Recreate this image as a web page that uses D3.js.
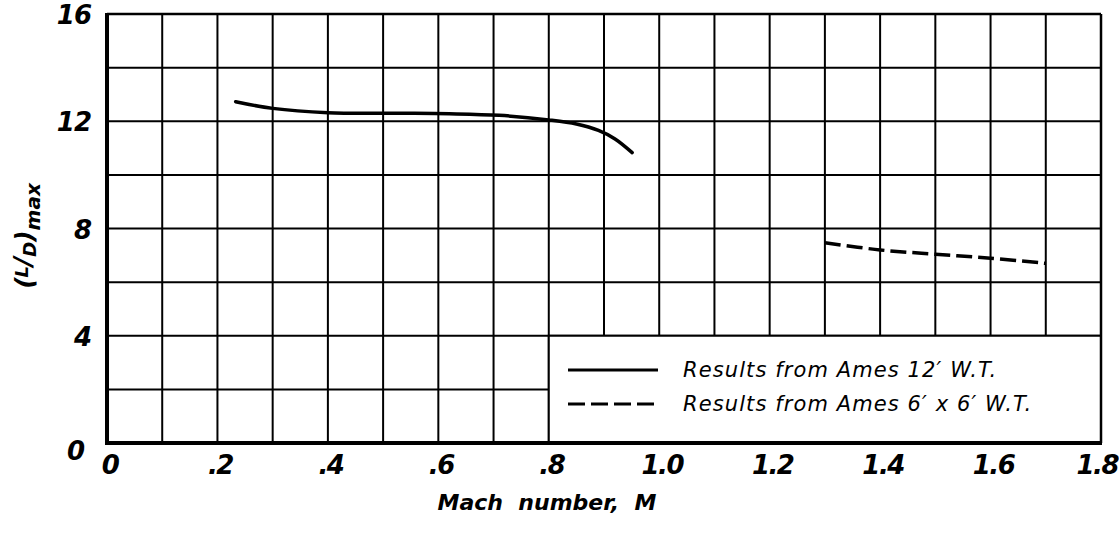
<!DOCTYPE html>
<meta charset="utf-8">
<style>
  body { margin: 0; background: #fff; }
  svg text { font-family: "DejaVu Sans", sans-serif; font-style: italic; fill: #000; white-space: pre; }
  .tick-label { font-size: 26px; font-weight: bold; }
  .axis-title { font-size: 22px; font-weight: bold; }
  .legend text { font-size: 21px; letter-spacing: 1.1px; }
  .grid line { stroke: #000; stroke-width: 2px; }
</style>
<body>
<svg id="chart" width="1119" height="534"></svg>
<script src="https://d3js.org/d3.v7.min.js"></script>
<script>
// axis ticks
const xTicks = [0, 0.2, 0.4, 0.6, 0.8, 1.0, 1.2, 1.4, 1.6, 1.8];
const xTickLabels = ["0", ".2", ".4", ".6", ".8", "1.0", "1.2", "1.4", "1.6", "1.8"];
const yTicks = [0, 4, 8, 12, 16];
const yTickLabels = ["0", "4", "8", "12", "16"];

// Ames 12' W.T. (solid)
const ames12Mach = [0.233, 0.30, 0.40, 0.53, 0.62, 0.71, 0.80, 0.85, 0.89, 0.92, 0.951];
const ames12LD   = [12.73, 12.48, 12.32, 12.30, 12.28, 12.22, 12.05, 11.90, 11.66, 11.34, 10.83];

// Ames 6' x 6' W.T. (dashed)
const ames6Mach = [1.3, 1.4, 1.5, 1.6, 1.7];
const ames6LD   = [7.47, 7.2, 7.04, 6.89, 6.70];

const legendLabels = ["Results from Ames 12\u2032 W.T.", "Results from Ames 6\u2032 x 6\u2032 W.T."];

const svg = d3.select("#chart");

const x = d3.scaleLinear().domain([0, 1.8]).range([107, 1101]);
const y = d3.scaleLinear().domain([0, 16]).range([443, 14]);

// grid every 0.1 Mach and 2 units
const grid = svg.append("g").attr("class", "grid");
grid.selectAll("line.v")
  .data(d3.range(1, 18).map(function(i) { return i / 10; }))
  .enter().append("line")
  .attr("x1", function(d) { return x(d); })
  .attr("x2", function(d) { return x(d); })
  .attr("y1", y(16))
  .attr("y2", y(0));
grid.selectAll("line.h")
  .data(d3.range(2, 16, 2))
  .enter().append("line")
  .attr("x1", x(0))
  .attr("x2", x(1.8))
  .attr("y1", function(d) { return y(d); })
  .attr("y2", function(d) { return y(d); });

// legend box sits on top of the grid
const legend = svg.append("g").attr("class", "legend");
legend.append("rect")
  .attr("x", x(0.8))
  .attr("y", y(4))
  .attr("width", x(1.8) - x(0.8))
  .attr("height", y(0) - y(4))
  .attr("fill", "#fff")
  .attr("stroke", "#000")
  .attr("stroke-width", 2);

const rows = legend.selectAll("g.row")
  .data(legendLabels)
  .enter().append("g")
  .attr("transform", function(d, i) { return "translate(0," + (370 + i * 34) + ")"; });
rows.append("line")
  .attr("x1", 568).attr("x2", 658)
  .attr("stroke", "#000")
  .attr("stroke-width", 3)
  .attr("stroke-dasharray", function(d, i) { return i ? "17,6" : null; });
rows.append("text")
  .attr("x", 683)
  .attr("y", 7)
  .text(function(d) { return d; });

// frame
svg.append("line").attr("x1", x(0)).attr("x2", x(1.8)).attr("y1", y(16)).attr("y2", y(16))
  .attr("stroke", "#000").attr("stroke-width", 2.5);
svg.append("line").attr("x1", x(1.8)).attr("x2", x(1.8)).attr("y1", y(16)).attr("y2", y(0))
  .attr("stroke", "#000").attr("stroke-width", 2.5);
svg.append("line").attr("x1", x(0)).attr("x2", x(0)).attr("y1", y(16) - 1).attr("y2", y(0) + 2)
  .attr("stroke", "#000").attr("stroke-width", 4);
svg.append("line").attr("x1", x(0) - 2).attr("x2", x(1.8) + 1).attr("y1", y(0)).attr("y2", y(0))
  .attr("stroke", "#000").attr("stroke-width", 4);

// curves
const line = d3.line()
  .x(function(d) { return x(d[0]); })
  .y(function(d) { return y(d[1]); })
  .curve(d3.curveCatmullRom.alpha(0.5));

svg.append("path")
  .datum(d3.zip(ames12Mach, ames12LD))
  .attr("d", line)
  .attr("fill", "none")
  .attr("stroke", "#000")
  .attr("stroke-width", 3.5)
  .attr("stroke-linecap", "round");

svg.append("path")
  .datum(d3.zip(ames6Mach, ames6LD))
  .attr("d", line)
  .attr("fill", "none")
  .attr("stroke", "#000")
  .attr("stroke-width", 3.5)
  .attr("stroke-dasharray", "16,6");

// tick labels
svg.selectAll("text.xt")
  .data(xTicks)
  .enter().append("text")
  .attr("class", "tick-label")
  .attr("x", function(d) { return d === 1.8 ? 1118 : x(d) + 3; })
  .attr("y", 474)
  .attr("text-anchor", function(d) { return d === 1.8 ? "end" : "middle"; })
  .attr("letter-spacing", -1.5)
  .text(function(d, i) { return xTickLabels[i]; });

svg.selectAll("text.yt")
  .data(yTicks)
  .enter().append("text")
  .attr("class", "tick-label")
  .attr("x", function(d) { return d === 0 ? 84 : 91; })
  .attr("y", function(d) { return y(d) + (d === 0 ? 17 : 10); })
  .attr("text-anchor", "end")
  .attr("letter-spacing", -1)
  .text(function(d, i) { return yTickLabels[i]; });

// axis titles
svg.append("text")
  .attr("class", "axis-title")
  .attr("x", 547)
  .attr("y", 510)
  .attr("text-anchor", "middle")
  .text("Mach  number,  M");

const yt = svg.append("text")
  .attr("class", "axis-title")
  .style("font-size", "25px")
  .attr("transform", "translate(33,236) rotate(-90)")
  .attr("text-anchor", "middle");
yt.append("tspan").text("(");
yt.append("tspan").attr("dy", -5).style("font-size", "18px").text("L");
yt.append("tspan").attr("dy", 3).text("/");
yt.append("tspan").attr("dy", 5).style("font-size", "18px").text("D");
yt.append("tspan").attr("dy", -3).text(")");
yt.append("tspan").attr("dy", 7).style("font-size", "20px").text("max");
</script>
</body>
